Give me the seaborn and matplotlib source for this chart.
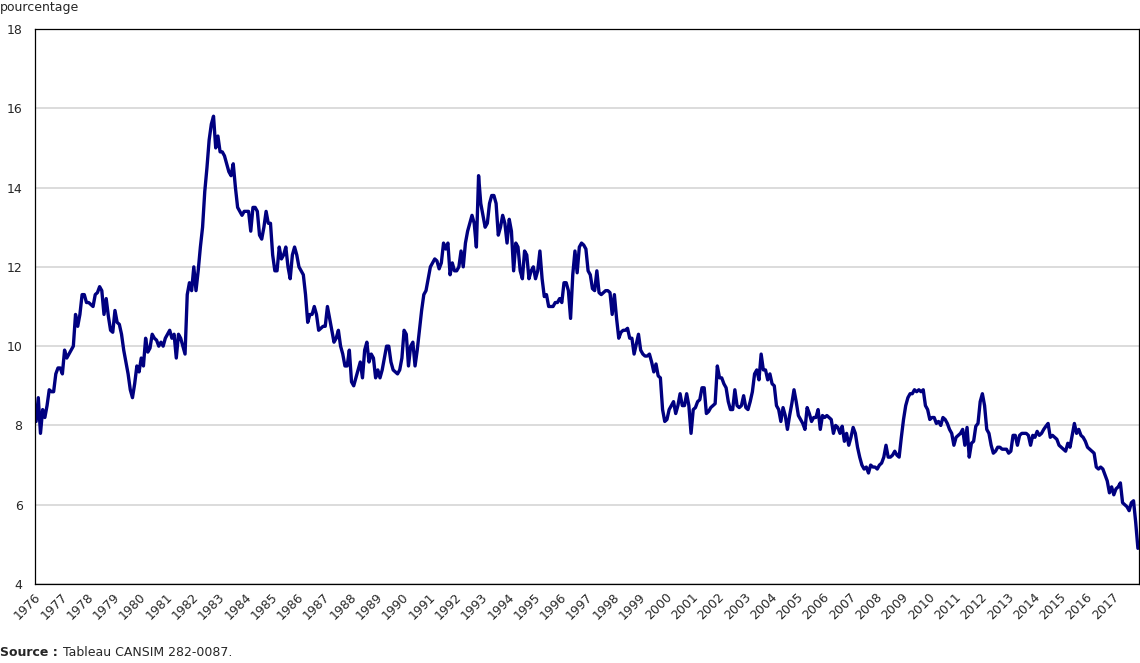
import numpy as np
import pandas as pd
import seaborn as sns
import matplotlib.pyplot as plt
import matplotlib.transforms as mtransforms

# taux mensuels (pourcentage), janvier 1976 a decembre 2017
start_year = 1976

rate_1976_1985 = [
    8.1, 8.7, 7.8, 8.4, 8.2, 8.5, 8.9, 8.85, 8.85, 9.3, 9.45, 9.45,
    9.3, 9.9, 9.7, 9.8, 9.9, 10.0, 10.8, 10.5, 10.8, 11.3, 11.3, 11.1,
    11.1, 11.05, 11.0, 11.3, 11.35, 11.5, 11.4, 10.8, 11.2, 10.75, 10.4, 10.35,
    10.9, 10.6, 10.55, 10.3, 9.9, 9.6, 9.3, 8.9, 8.7, 9.05, 9.5, 9.35,
    9.7, 9.5, 10.2, 9.85, 9.95, 10.3, 10.2, 10.15, 10.0, 10.1, 10.0, 10.2,
    10.3, 10.4, 10.2, 10.3, 9.7, 10.3, 10.2, 10.0, 9.8, 11.3, 11.6, 11.4,
    12.0, 11.4, 11.9, 12.5, 13.0, 13.9, 14.5, 15.2, 15.6, 15.8, 15.0, 15.3,
    14.9, 14.9, 14.8, 14.6, 14.4, 14.3, 14.6, 14.0, 13.5, 13.4, 13.3, 13.4,
    13.4, 13.4, 12.9, 13.5, 13.5, 13.4, 12.8, 12.7, 13.0, 13.4, 13.1, 13.1,
    12.3, 11.9, 11.9, 12.5, 12.2, 12.3, 12.5, 12.0, 11.7, 12.3, 12.5, 12.3,
]

rate_1986_1995 = [
    12.0, 11.9, 11.8, 11.3, 10.6, 10.8, 10.8, 11.0, 10.8, 10.4, 10.45, 10.5,
    10.5, 11.0, 10.7, 10.4, 10.1, 10.2, 10.4, 10.0, 9.8, 9.5, 9.5, 9.9,
    9.1, 9.0, 9.2, 9.4, 9.6, 9.2, 9.9, 10.1, 9.6, 9.8, 9.7, 9.2,
    9.4, 9.2, 9.4, 9.7, 10.0, 10.0, 9.6, 9.4, 9.35, 9.3, 9.4, 9.7,
    10.4, 10.3, 9.5, 10.0, 10.1, 9.5, 9.9, 10.4, 10.9, 11.3, 11.4, 11.7,
    12.0, 12.1, 12.2, 12.15, 11.95, 12.1, 12.6, 12.45, 12.6, 11.8, 12.1, 11.9,
    11.9, 12.0, 12.4, 12.0, 12.6, 12.9, 13.1, 13.3, 13.1, 12.5, 14.3, 13.6,
    13.3, 13.0, 13.1, 13.6, 13.8, 13.8, 13.6, 12.8, 13.0, 13.3, 13.1, 12.6,
    13.2, 12.9, 11.9, 12.6, 12.5, 11.9, 11.7, 12.4, 12.3, 11.7, 11.9, 12.0,
    11.7, 11.9, 12.4, 11.7, 11.25, 11.3, 11.0, 11.0, 11.0, 11.1, 11.1, 11.2,
]

rate_1996_2005 = [
    11.1, 11.6, 11.6, 11.4, 10.7, 11.8, 12.4, 11.85, 12.5, 12.6, 12.55, 12.45,
    11.9, 11.8, 11.45, 11.4, 11.9, 11.35, 11.3, 11.35, 11.4, 11.4, 11.35, 10.8,
    11.3, 10.7, 10.2, 10.35, 10.4, 10.4, 10.45, 10.2, 10.2, 9.8, 10.05, 10.3,
    9.9, 9.8, 9.75, 9.75, 9.8, 9.6, 9.35, 9.55, 9.25, 9.2, 8.4, 8.1,
    8.15, 8.4, 8.5, 8.6, 8.3, 8.5, 8.8, 8.5, 8.5, 8.8, 8.5, 7.8,
    8.4, 8.45, 8.6, 8.65, 8.95, 8.95, 8.3, 8.35, 8.45, 8.5, 8.55, 9.5,
    9.2, 9.2, 9.05, 8.95, 8.6, 8.4, 8.4, 8.9, 8.5, 8.45, 8.5, 8.75,
    8.45, 8.4, 8.6, 8.85, 9.3, 9.4, 9.15, 9.8, 9.4, 9.4, 9.15, 9.3,
    9.05, 9.0, 8.5, 8.4, 8.1, 8.45, 8.25, 7.9, 8.25, 8.55, 8.9, 8.6,
    8.25, 8.15, 8.05, 7.9, 8.45, 8.3, 8.1, 8.2, 8.2, 8.4, 7.9, 8.25,
]

rate_2006_2017 = [
    8.2, 8.25, 8.2, 8.15, 7.8, 8.0, 7.95, 7.8, 7.98, 7.6, 7.8, 7.5,
    7.7, 7.95, 7.8, 7.45, 7.2, 7.0, 6.9, 6.95, 6.8, 7.0, 6.95, 6.95,
    6.9, 7.0, 7.05, 7.2, 7.5, 7.2, 7.2, 7.25, 7.35, 7.25, 7.2, 7.7,
    8.15, 8.5, 8.7, 8.8, 8.8, 8.9, 8.85, 8.9, 8.85, 8.9, 8.5, 8.4,
    8.15, 8.2, 8.2, 8.05, 8.1, 8.0, 8.2, 8.15, 8.05, 7.9, 7.8, 7.5,
    7.7, 7.75, 7.8, 7.9, 7.5, 7.95, 7.2, 7.55, 7.6, 7.98, 8.05, 8.6,
    8.8, 8.5, 7.9, 7.8, 7.5, 7.3, 7.35, 7.45, 7.45, 7.4, 7.4, 7.4,
    7.3, 7.35, 7.75, 7.75, 7.5, 7.75, 7.8, 7.8, 7.8, 7.75, 7.5, 7.75,
    7.7, 7.85, 7.75, 7.8, 7.9, 7.98, 8.05, 7.7, 7.75, 7.7, 7.65, 7.5,
    7.45, 7.4, 7.35, 7.55, 7.45, 7.75, 8.05, 7.8, 7.9, 7.75, 7.7, 7.6,
    7.45, 7.4, 7.35, 7.3, 6.95, 6.9, 6.95, 6.9, 6.75, 6.6, 6.3, 6.45,
    6.25, 6.4, 6.45, 6.55, 6.05, 6.0, 5.95, 5.85, 6.05, 6.1, 5.55, 4.9,
]

rate = rate_1976_1985 + rate_1986_1995 + rate_1996_2005 + rate_2006_2017
months = np.arange(len(rate))
df = pd.DataFrame({"annee": start_year + (months + 0.5) / 12, "taux": rate})

sns.set_style("white")
plt.rcParams["font.family"] = ["DejaVu Sans"]

fig = plt.figure(figsize=(11.4, 6.63), dpi=100)
ax = fig.add_axes([35 / 1140, 79 / 663, 1104 / 1140, 555 / 663])

sns.lineplot(data=df, x="annee", y="taux", color="#000080", linewidth=2.4, ax=ax)

ax.set_xlim(1976, 2018)
ax.set_ylim(4, 18)
ax.set_xlabel("")
ax.set_ylabel("")

ax.set_yticks(range(4, 19, 2))
ax.yaxis.grid(True, color="#d9d9d9", linewidth=1.3)
ax.set_axisbelow(True)

years = list(range(1976, 2018))
ax.set_xticks(years)
ax.set_xticklabels([str(y) for y in years], rotation=45, ha="right",
                   va="center", rotation_mode="anchor", fontsize=9)
ax.set_xticks(np.arange(1976.5, 2018, 1), minor=True)
ax.tick_params(axis="x", which="both", direction="in", length=3, width=0.9,
               color="black", pad=8)
ax.tick_params(axis="y", length=0, labelsize=9, pad=9)

shift = mtransforms.ScaledTranslation(4 / 100, 0, fig.dpi_scale_trans)
for lab in ax.get_xticklabels():
    lab.set_transform(lab.get_transform() + shift)

for s in ax.spines.values():
    s.set_color("black")
    s.set_linewidth(0.9)

fig.text(0.0, 0.999, "pourcentage", va="top", ha="left", fontsize=9)
fig.text(0.0, 0.006, "Source :", va="bottom", ha="left", fontsize=9, fontweight="bold")
fig.text(63 / 1140, 0.006, "Tableau CANSIM 282-0087.", va="bottom", ha="left", fontsize=9)

fig.savefig("out.png", dpi=100)
